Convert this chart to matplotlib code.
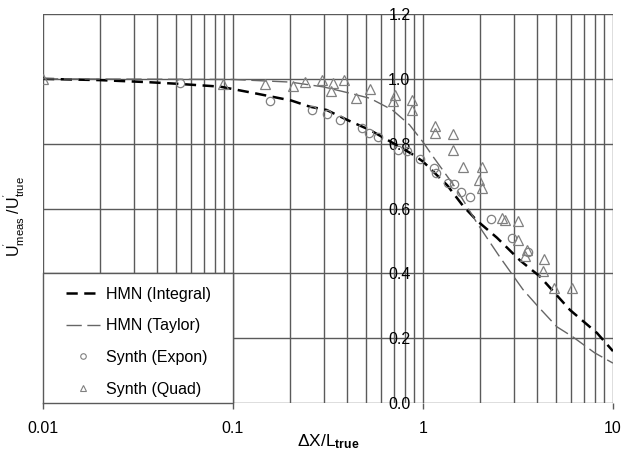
import numpy as np
import matplotlib
matplotlib.use('Agg')
import matplotlib.pyplot as plt
from matplotlib.patches import Rectangle
from matplotlib.lines import Line2D
from matplotlib.ticker import LogLocator, NullFormatter, FixedLocator

plt.rcParams['font.family'] = ['Liberation Sans', 'DejaVu Sans']
plt.rcParams['mathtext.fontset'] = 'custom'
plt.rcParams['mathtext.rm'] = 'Liberation Sans'
plt.rcParams['mathtext.it'] = 'Liberation Sans:italic'
plt.rcParams['mathtext.bf'] = 'Liberation Sans:bold'

# HMN curves
integral_x = [0.01, 0.02, 0.035, 0.05, 0.0855, 0.105, 0.129, 0.203, 0.254, 0.311, 0.4,
              0.526, 0.676, 0.87, 1.0, 1.34, 1.63, 1.92, 2.45, 3.24, 4.13, 5.94, 8.24, 10.0]
integral_y = [1.0, 0.996, 0.99, 0.985, 0.976, 0.966, 0.956, 0.933, 0.914, 0.904, 0.873,
              0.842, 0.806, 0.769, 0.745, 0.672, 0.607, 0.563, 0.510, 0.440, 0.390, 0.287, 0.216, 0.160]

taylor_x = [0.01, 0.1, 0.2, 0.3, 0.41, 0.526, 0.69, 0.85, 1.0, 1.13, 1.5, 1.92, 2.54,
            3.36, 4.0, 5.07, 6.15, 8.0, 10.0]
taylor_y = [1.0, 0.998, 0.99, 0.975, 0.956, 0.94, 0.904, 0.858, 0.805, 0.76, 0.66, 0.556,
            0.45, 0.35, 0.30, 0.235, 0.204, 0.155, 0.123]

# synthetic data points
expon_x = [0.0526, 0.157, 0.26, 0.312, 0.368, 0.476, 0.52, 0.582, 0.741, 0.821, 0.964,
           1.14, 1.17, 1.36, 1.46, 1.59, 1.77, 2.27, 2.95, 3.55]
expon_y = [0.988, 0.933, 0.904, 0.892, 0.873, 0.848, 0.832, 0.822, 0.781, 0.776, 0.752,
           0.726, 0.710, 0.680, 0.675, 0.650, 0.637, 0.567, 0.508, 0.465]

quad_x = [0.01, 0.0886, 0.147, 0.207, 0.239, 0.293, 0.335, 0.327, 0.386, 0.444, 0.526,
          0.713, 0.698, 0.871, 0.871, 1.156, 1.156, 1.445, 1.445, 1.62, 2.04, 1.96, 2.04,
          2.59, 2.70, 3.18, 3.18, 3.52, 3.44, 4.34, 4.26, 4.89, 6.06]
quad_y = [1.0, 0.985, 0.985, 0.978, 0.99, 0.997, 0.987, 0.961, 0.997, 0.940, 0.968,
          0.951, 0.932, 0.935, 0.904, 0.853, 0.832, 0.830, 0.781, 0.729, 0.729, 0.688, 0.663,
          0.570, 0.565, 0.560, 0.503, 0.472, 0.452, 0.443, 0.408, 0.354, 0.354]

y_ticks = [0.0, 0.2, 0.4, 0.6, 0.8, 1.0, 1.2]
x_ticks = [0.01, 0.1, 1, 10]
x_ticklabels = ['0.01', '0.1', '1', '10']

fig = plt.figure(figsize=(6.22, 4.5), dpi=100)
ax = fig.add_axes([0.0691, 0.1044, 0.9164, 0.8645])

ax.set_xscale('log')
ax.set_xlim(0.01, 10)
ax.set_ylim(0, 1.2)

grid_col = '#5a5a5a'
ax.set_axisbelow(True)
ax.xaxis.set_major_locator(FixedLocator(x_ticks))
ax.set_xticklabels(x_ticklabels)
ax.xaxis.set_minor_locator(LogLocator(base=10, subs=np.arange(2, 10)))
ax.xaxis.set_minor_formatter(NullFormatter())
ax.set_yticks(y_ticks)
ax.set_yticklabels([f'{v:.1f}' for v in y_ticks])
ax.grid(True, which='major', axis='both', color=grid_col, lw=1.0)
ax.grid(True, which='minor', axis='x', color=grid_col, lw=1.0)

for s in ['top', 'right', 'bottom']:
    ax.spines[s].set_visible(False)
ax.spines['left'].set_position(('data', 1))
ax.spines['left'].set_visible(False)

ax.tick_params(axis='x', which='major', direction='out', length=4, width=1,
               color=grid_col, labelsize=11.5, pad=9)
ax.tick_params(axis='x', which='minor', length=0)
ax.tick_params(axis='y', length=0, labelsize=11.5, pad=9)

# white box behind the legend, its edges kept as grid lines
ax.add_patch(Rectangle((0.01, 0.0), 0.09, 0.4, facecolor='white',
                       edgecolor='none', zorder=1))
ax.plot([0.01, 0.1], [0.0, 0.0], color=grid_col, lw=1.0, zorder=1.5, clip_on=False)
ax.plot([0.01, 0.1], [0.4, 0.4], color=grid_col, lw=1.0, zorder=1.5)
ax.plot([0.01, 0.01], [0.0, 0.4], color=grid_col, lw=1.0, zorder=1.5, clip_on=False)
ax.plot([0.1, 0.1], [0.0, 0.4], color=grid_col, lw=1.0, zorder=1.5)

ax.plot(integral_x, integral_y, color='black', lw=1.8, dashes=(4.5, 2.6), zorder=3)
ax.plot(taylor_x, taylor_y, color='#666666', lw=1.0, dashes=(11, 4), zorder=3)
ax.plot(expon_x, expon_y, ls='none', marker='o', ms=6, mfc='none', mec='#808080',
        mew=0.9, zorder=4)
ax.plot(quad_x, quad_y, ls='none', marker='^', ms=7, mfc='none', mec='#808080',
        mew=0.9, zorder=4)

handles = [
    Line2D([], [], color='black', lw=1.8, dashes=(4.5, 2.6)),
    Line2D([], [], color='#666666', lw=1.0, dashes=(11, 4)),
    Line2D([], [], ls='none', marker='o', ms=4, mfc='none', mec='#808080', mew=0.8),
    Line2D([], [], ls='none', marker='^', ms=5, mfc='none', mec='#808080', mew=0.8),
]
labels = ['HMN (Integral)', 'HMN (Taylor)', 'Synth (Expon)', 'Synth (Quad)']
leg = ax.legend(handles, labels, loc='lower left', bbox_to_anchor=(0.016, -0.021),
                frameon=False, fontsize=11.5, handlelength=2.1, handletextpad=0.35,
                labelspacing=1.05)
leg.set_zorder(5)

ax.set_xlabel(r'$\Delta$X/L$_{\mathbf{true}}$', fontsize=12.5, labelpad=-3)
ax.set_ylabel(r"U$^{'}_{\rm meas}$ /U$^{'}_{\rm true}$", fontsize=11.5)
ax.yaxis.set_label_coords(-0.028, 0.48)

fig.savefig('out.png', dpi=100)
